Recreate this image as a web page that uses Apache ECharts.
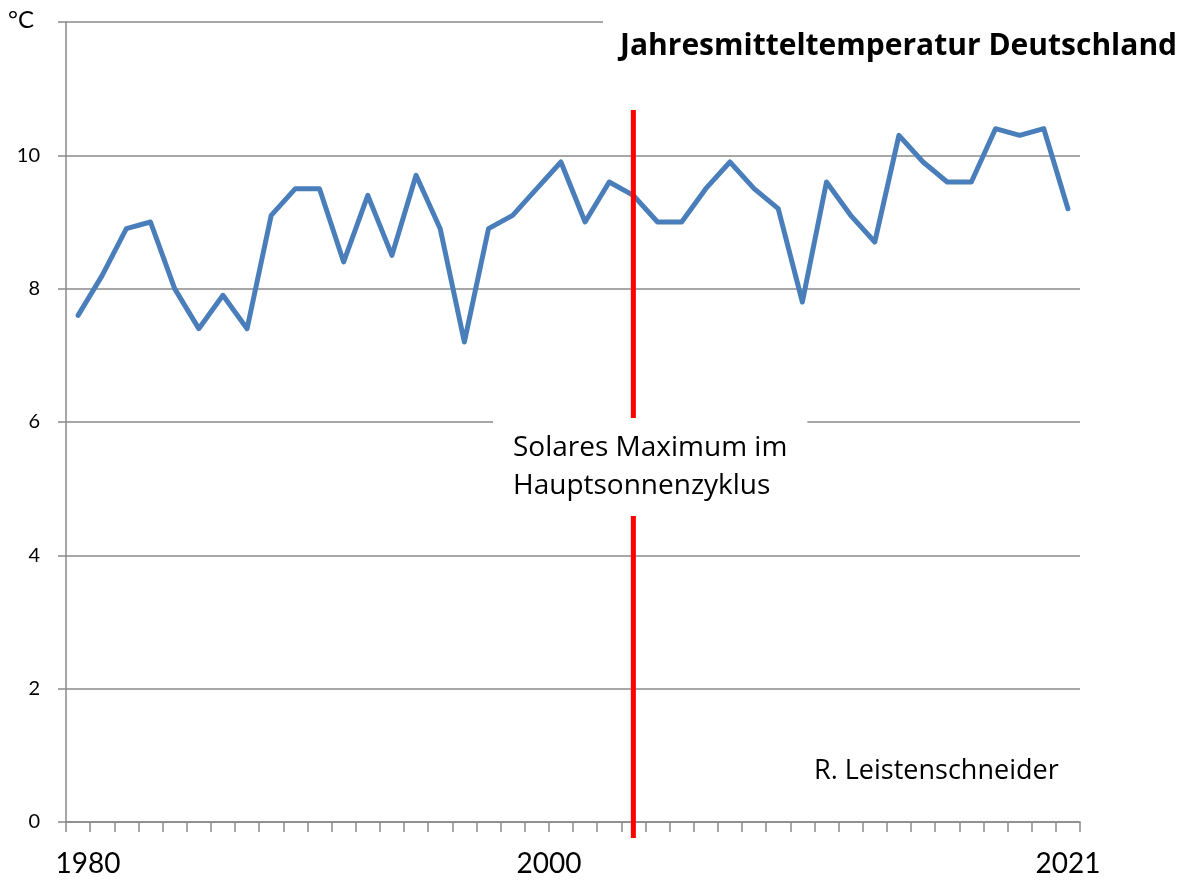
<!DOCTYPE html>
<html>
<head>
<meta charset="utf-8">
<title>Jahresmitteltemperatur Deutschland</title>
<script src="https://cdn.jsdelivr.net/npm/echarts@6/dist/echarts.min.js"></script>
<style>
  html, body { margin: 0; padding: 0; background: #fff; }
  #chart { width: 1191px; height: 881px; }
</style>
</head>
<body>
<div id="chart"></div>
<script>
// Jahre und Jahresmitteltemperatur (°C)
var years = [];
for (var y = 1980; y <= 2021; y++) { years.push(String(y)); }
var temps = [7.6, 8.2, 8.9, 9.0, 8.0, 7.4, 7.9, 7.4, 9.1, 9.5,
             9.5, 8.4, 9.4, 8.5, 9.7, 8.9, 7.2, 8.9, 9.1, 9.5,
             9.9, 9.0, 9.6, 9.4, 9.0, 9.0, 9.5, 9.9, 9.5, 9.2,
             7.8, 9.6, 9.1, 8.7, 10.3, 9.9, 9.6, 9.6, 10.4, 10.3,
             10.4, 9.2];
var shownYears = ['1980', '2000', '2021'];
var maxYear = '2003'; // solares Maximum

var font = 'Lato, "Open Sans", sans-serif';
var textFont = '"Open Sans", Lato, sans-serif';
var gridColor = '#8a8a8a';

var myChart = echarts.init(document.getElementById('chart'));
var option = {
    animation: false,
    backgroundColor: '#fff',
    title: [
        {
            // Haupttitel mit weissem Hintergrund (deckt oberste Gitterlinie ab)
            text: 'Jahresmitteltemperatur Deutschland',
            left: 603,
            top: 6,
            padding: [25, 40, 10, 17],
            backgroundColor: '#fff',
            textStyle: { fontFamily: textFont, fontSize: 30, fontWeight: 'bold', color: '#000' }
        },
        {
            text: '°C',
            left: 8,
            top: 8,
            padding: 0,
            textStyle: { fontFamily: font, fontSize: 24, fontWeight: 'normal', color: '#000' }
        },
        {
            text: 'Solares Maximum im\nHauptsonnenzyklus',
            left: 493,
            top: 418,
            padding: [11, 20, 11, 20],
            backgroundColor: '#fff',
            textStyle: { fontFamily: textFont, fontSize: 28, fontWeight: 'normal', color: '#000', lineHeight: 38, width: 270 }
        },
        {
            text: 'R. Leistenschneider',
            left: 814,
            top: 758,
            padding: 0,
            textStyle: { fontFamily: textFont, fontSize: 27, fontWeight: 'normal', color: '#000' }
        }
    ],
    grid: { left: 66, right: 111, top: 22, bottom: 59 },
    xAxis: {
        type: 'category',
        data: years,
        boundaryGap: true,
        axisLine: { lineStyle: { color: gridColor, width: 1.5 } },
        axisTick: { show: true, interval: 0, length: 10, lineStyle: { color: gridColor, width: 1.5 } },
        axisLabel: {
            interval: function (index, value) { return shownYears.indexOf(value) >= 0; },
            margin: 28,
            formatter: function (value) {
                if (value === '1980') return '{a|' + value + '}';
                if (value === '2000') return '{b|' + value + '}';
                return '{c|' + value + '}';
            },
            rich: {
                a: { fontFamily: font, fontSize: 28, color: '#000', padding: [0, 0, 0, 20] },
                b: { fontFamily: font, fontSize: 28, color: '#000', padding: [0, 24, 0, 0] },
                c: { fontFamily: font, fontSize: 28, color: '#000' }
            }
        },
        splitLine: { show: false }
    },
    yAxis: {
        type: 'value',
        min: 0,
        max: 12,
        interval: 2,
        axisLine: { show: true, lineStyle: { color: gridColor, width: 1.5 } },
        axisTick: { show: true, length: 8, lineStyle: { color: gridColor, width: 1.5 } },
        axisLabel: {
            fontFamily: font, fontSize: 20, color: '#000', margin: 26,
            formatter: function (v) { return v === 12 ? '' : String(v); }
        },
        splitLine: { show: true, lineStyle: { color: gridColor, width: 1.5 } }
    },
    series: [
        {
            name: 'Temperatur',
            type: 'line',
            data: temps,
            symbol: 'none',
            z: 3,
            lineStyle: { color: '#4a7ebb', width: 5, join: 'round', cap: 'round' }
        },
        {
            name: 'Solares Maximum',
            type: 'line',
            data: [[maxYear, 10.68], [maxYear, -0.24]],
            symbol: 'none',
            clip: false,
            z: 4,
            lineStyle: { color: '#ff0000', width: 5 }
        }
    ]
};
if (option && typeof option === "object") {
    myChart.setOption(option, true);
}
</script>
</body>
</html>
